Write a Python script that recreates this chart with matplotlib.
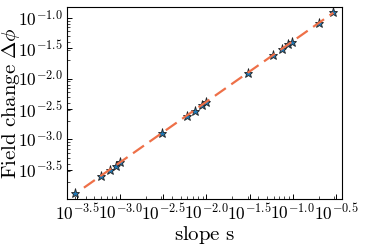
import numpy as np
import matplotlib
matplotlib.use("Agg")
import matplotlib.pyplot as plt
from matplotlib.ticker import FixedLocator, FuncFormatter, LogLocator, NullFormatter

plt.rcParams['mathtext.fontset'] = 'cm'
plt.rcParams['font.family'] = ['DejaVu Serif']

# log10 of slope s and field change
log_slope = [-3.520, -3.222, -3.121, -3.045, -2.998, -2.519, -2.229, -2.133, -2.048,
             -2.009, -1.522, -1.225, -1.128, -1.052, -1.005, -0.696, -0.530]
log_dphi = [-3.883, -3.594, -3.500, -3.429, -3.373, -2.896, -2.607, -2.525, -2.431,
            -2.377, -1.900, -1.609, -1.510, -1.428, -1.390, -1.087, -0.906]
fit_log_x_range = [-3.42, -0.53]
x_tick_exps = [-3.5, -3.0, -2.5, -2.0, -1.5, -1.0, -0.5]
y_tick_exps = [-3.5, -3.0, -2.5, -2.0, -1.5, -1.0]

slope = 10 ** np.array(log_slope)
dphi = 10 ** np.array(log_dphi)
coef = np.polyfit(log_slope, log_dphi, 1)
fx = np.array(fit_log_x_range)
fit_x = 10 ** fx
fit_y = 10 ** np.polyval(coef, fx)

fig = plt.figure(figsize=(3.71, 2.47), dpi=100)
ax = fig.add_axes([67/371, 1-199/247, (342-67)/371, (199-7)/247])

ax.plot(slope, dphi, linestyle='none', marker='*', markersize=6.5,
        markerfacecolor='#1f77b4', markeredgecolor='#222222', markeredgewidth=0.6, zorder=2)
ax.plot(fit_x, fit_y, color='#EE7048', lw=1.6, dashes=(6, 3), zorder=3)

ax.set_xscale('log')
ax.set_yscale('log')
ax.set_xlim(10**-3.616, 10**-0.43)
ax.set_ylim(10**-3.98, 10**-0.82)

fmt = FuncFormatter(lambda v, p: r'$10^{%.1f}$' % np.log10(v))
ax.xaxis.set_major_locator(FixedLocator([10**e for e in x_tick_exps]))
ax.yaxis.set_major_locator(FixedLocator([10**e for e in y_tick_exps]))
ax.xaxis.set_major_formatter(fmt)
ax.yaxis.set_major_formatter(fmt)
ax.xaxis.set_minor_locator(LogLocator(base=10, subs=np.arange(2, 10)))
ax.yaxis.set_minor_locator(LogLocator(base=10, subs=np.arange(2, 10)))
ax.xaxis.set_minor_formatter(NullFormatter())
ax.yaxis.set_minor_formatter(NullFormatter())

ax.tick_params(which='both', direction='in', top=False, right=False, labelsize=12.5, pad=3)
ax.tick_params(which='major', length=3.5, width=0.7)
ax.tick_params(which='minor', length=2, width=0.5)
for s in ax.spines.values():
    s.set_linewidth(0.8)

ax.set_xlabel(r'$\mathrm{slope\ s}$', fontsize=15)
ax.set_ylabel(r'$\mathrm{Field\ change}\ \Delta\phi$', fontsize=15)
ax.xaxis.set_label_coords(0.5, -0.13)
ax.yaxis.set_label_coords(-0.162, 0.5)

fig.savefig('out.png', dpi=100)
